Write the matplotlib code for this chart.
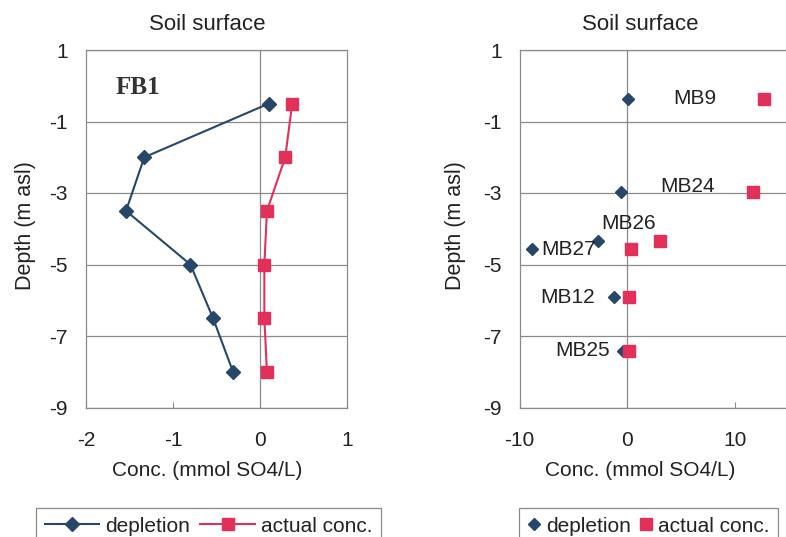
import numpy as np
import matplotlib.pyplot as plt
from matplotlib.lines import Line2D

# FB1 profile
fb1_depth = [-0.5, -2.0, -3.5, -5.0, -6.5, -8.0]
fb1_depletion = [0.10, -1.33, -1.54, -0.80, -0.54, -0.31]
fb1_actual = [0.37, 0.29, 0.08, 0.05, 0.05, 0.08]

# MB wells
mb_names = ['MB9', 'MB24', 'MB26', 'MB27', 'MB12', 'MB25']
mb_depth = [-0.36, -2.97, -4.34, -4.57, -5.92, -7.41]
mb_depletion = [0.07, -0.6, -2.7, -8.9, -1.2, -0.4]
mb_actual = [12.7, 11.7, 3.0, 0.3, 0.16, 0.16]

# label anchor (left edge of text) per well
lab_x = [4.3, 3.1, -2.4, -8.0, -8.1, -6.7]
lab_y = [-0.36, -2.82, -3.85, -4.57, -5.92, -7.41]

blue = '#27476a'
red = '#e2305a'
grid_c = '#8a8a8a'
txt_c = '#222222'

plt.rcParams['font.family'] = ['Liberation Sans', 'DejaVu Sans']
plt.rcParams['axes.unicode_minus'] = False

W, H = 786, 537
fig = plt.figure(figsize=(W / 100, H / 100), dpi=100)
fig.patch.set_facecolor('white')

ax1 = fig.add_axes([86 / W, 1 - 407.5 / H, 261 / W, 357.5 / H])
ax2 = fig.add_axes([519.7 / W, 1 - 407.5 / H, 322.8 / W, 357.5 / H])


def style(ax, xlim, xticks):
    ax.set_xlim(*xlim)
    ax.set_ylim(-9, 1)
    ax.set_yticks([1, -1, -3, -5, -7, -9])
    ax.set_xticks(xticks)
    ax.grid(axis='y', color=grid_c, lw=0.9)
    ax.axvline(0, color=grid_c, lw=0.9, zorder=1)
    for s in ax.spines.values():
        s.set_color(grid_c)
        s.set_linewidth(0.9)
    ax.tick_params(axis='x', direction='in', length=4, color=grid_c,
                   labelsize=15, pad=17, labelcolor=txt_c)
    ax.tick_params(axis='y', length=0, labelsize=15, pad=13, labelcolor=txt_c)
    ax.set_axisbelow(True)


style(ax1, (-2, 1), [-2, -1, 0, 1])
style(ax2, (-10, 20), [-10, 0, 10])

ax1.plot(fb1_depletion, fb1_depth, color=blue, marker='D', ms=7.5, lw=1.5, zorder=3)
ax1.plot(fb1_actual, fb1_depth, color=red, marker='s', ms=9, lw=1.5, zorder=3)
ax1.text(-1.66, -0.04, 'FB1', family='Liberation Serif', fontweight='bold',
         fontsize=18, color='#333333', va='center')

ax2.plot(mb_depletion, mb_depth, ls='none', color=blue, marker='D', ms=6.5, zorder=3)
ax2.plot(mb_actual, mb_depth, ls='none', color=red, marker='s', ms=9, zorder=3)
for name, x, y in zip(mb_names, lab_x, lab_y):
    ax2.text(x, y, name, fontsize=15, color=txt_c, va='center', ha='left')

# titles / axis labels
for cx in (207, 640):
    fig.text(cx / W, 1 - 25 / H, 'Soil surface', fontsize=16, color=txt_c,
             ha='center', va='center')
    fig.text(cx / W, 1 - 470 / H, 'Conc. (mmol SO4/L)', fontsize=15,
             color=txt_c, ha='center', va='center')
for lx in (25, 456):
    fig.text(lx / W, 1 - 226 / H, 'Depth (m asl)', fontsize=15.5, color=txt_c,
             rotation=90, ha='center', va='center')

# legends
h1 = [Line2D([], [], color=blue, marker='D', ms=7.5, lw=1.5),
      Line2D([], [], color=red, marker='s', ms=9, lw=1.5)]
leg1 = fig.legend(h1, ['depletion', 'actual conc.'], loc='upper left',
                  bbox_to_anchor=(26 / W, 1 - 498 / H), ncol=2, fontsize=15,
                  handlelength=2.6, handletextpad=0.3, columnspacing=0.5,
                  borderpad=0.4, fancybox=False, edgecolor=grid_c,
                  framealpha=1, labelcolor=txt_c)
leg1.get_frame().set_linewidth(0.9)

h2 = [Line2D([], [], ls='none', color=blue, marker='D', ms=6.5),
      Line2D([], [], ls='none', color=red, marker='s', ms=9)]
leg2 = fig.legend(h2, ['depletion', 'actual conc.'], loc='upper left',
                  bbox_to_anchor=(509 / W, 1 - 498 / H), ncol=2, fontsize=15,
                  handlelength=0.6, handletextpad=0.3, columnspacing=0.4,
                  borderpad=0.4, fancybox=False, edgecolor=grid_c,
                  framealpha=1, labelcolor=txt_c)
leg2.get_frame().set_linewidth(0.9)

fig.savefig('out.png', dpi=100)
